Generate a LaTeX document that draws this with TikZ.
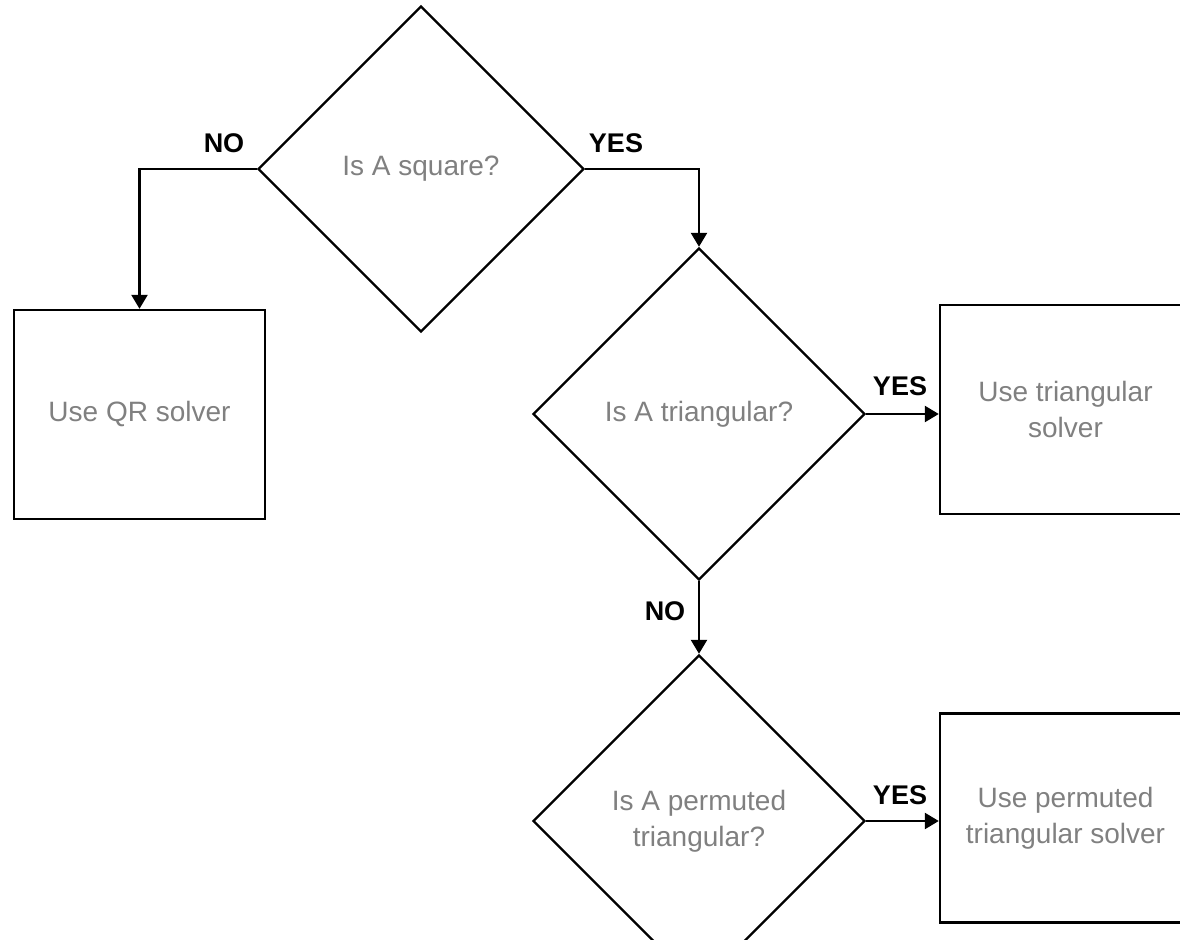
\documentclass[tikz,border=0pt]{standalone}
\usepackage{fontspec}
\setmainfont{Liberation Sans}
\usetikzlibrary{shapes.geometric,arrows.meta}
\definecolor{txtgray}{RGB}{128,128,128}
\tikzset{
  decision/.style={
    diamond,
    draw,
    line width=1.2pt,
    inner sep=0pt,
    text=txtgray,
    align=center,
    minimum width=#1,
    minimum height=#1,
  },
  solver/.style={
    rectangle,
    draw,
    line width=1.2pt,
    text=txtgray,
    align=center,
    minimum width=125.5pt,
    minimum height=104.5pt,
  },
  arr/.style={-{Triangle[width=8pt,length=7pt]}, line width=1.2pt},
  lbl/.style={font=\fontsize{13.5}{16}\selectfont\bfseries, text=black}
}

\begin{document}
\begin{tikzpicture}[x=0.5pt, y=-0.5pt, font=\fontsize{14}{18}\selectfont]
      \useasboundingbox (0,0) rectangle (1180,940);
      \clip (0,0) rectangle (1180,940);

      % questions
      \node[decision=163pt] (square) at (421,169) {Is A square?};
      \node[decision=166pt] (triang) at (699,414) {Is A triangular?};
      \node[decision=166pt] (permut) at (699,821) {Is A permuted\\ triangular?};

      % solvers
      \node[solver] (qr) at (139.5,414.5) {Use QR solver};
      \node[solver] (trisolve) at (1065.5,409.5) {Use triangular\\ solver};
      \node[solver] (permsolve) at (1065.5,818) {Use permuted\\ triangular solver};

      \draw[arr] (square.west) -| (qr.north);
      \draw[arr] (square.east) -| (triang.north);
      \draw[arr] (triang.east) -- (triang.east -| trisolve.west);
      \draw[arr] (triang.south) -- (permut.north);
      \draw[arr] (permut.east) -- (permut.east -| permsolve.west);

      \node[lbl] (sqno) at (224,143) {NO};
      \node[lbl] (sqyes) at (616,143) {YES};
      \node[lbl] (triyes) at (900,386) {YES};
      \node[lbl] (trino) at (665,611) {NO};
      \node[lbl] (permyes) at (900,795) {YES};
\end{tikzpicture}
\end{document}
